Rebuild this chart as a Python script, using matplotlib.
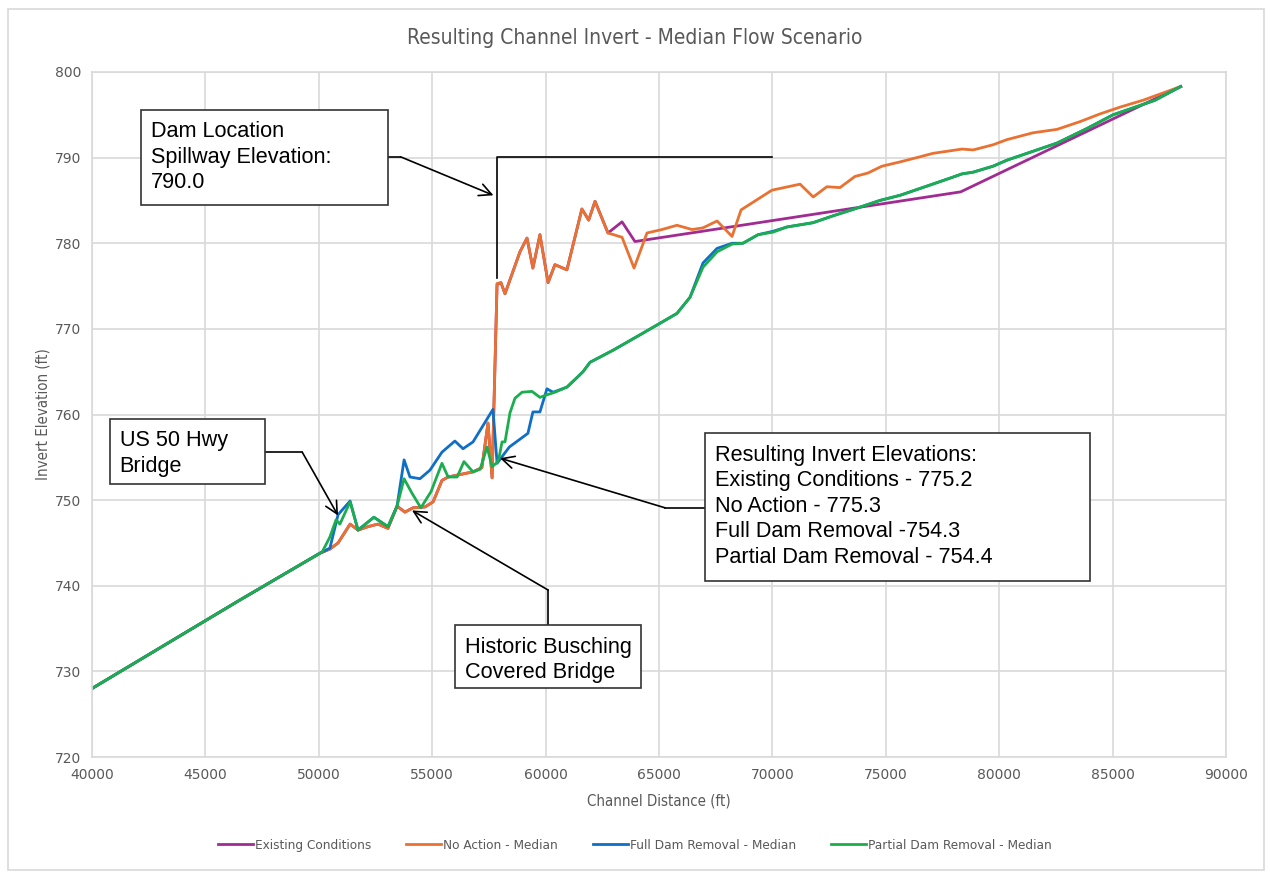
import matplotlib.pyplot as plt
from matplotlib.patches import Rectangle
from matplotlib.font_manager import FontProperties

# ---- data ----
dist_existing = [40000, 46500, 50050, 50500, 50850, 51380, 51730, 52170, 52610, 53050,
                 53450, 53800, 54150, 54680, 55040, 55430, 55700, 56800, 57190, 57460,
                 57640, 57860, 58030, 58210, 58870, 59180, 59440, 59750, 60110, 60410,
                 60940, 61600, 61900, 62180, 62750, 63370, 63940, 78300, 88000]
elev_existing = [728.0, 738.3, 743.8, 744.3, 745.0, 747.2, 746.5, 746.9, 747.2, 746.7,
                 749.3, 748.6, 749.1, 749.2, 749.8, 752.3, 752.7, 753.3, 753.8, 759.0,
                 752.6, 775.2, 775.4, 774.1, 779.0, 780.6, 777.1, 781.0, 775.4, 777.5,
                 776.9, 784.0, 782.7, 784.9, 781.2, 782.5, 780.2, 786.0, 798.3]

dist_noaction = [40000, 46500, 50050, 50500, 50850, 51380, 51730, 52170, 52610, 53050,
                 53450, 53800, 54150, 54680, 55040, 55430, 55700, 56800, 57190, 57460,
                 57640, 57860, 58030, 58210, 58870, 59180, 59440, 59750, 60110, 60410,
                 60940, 61600, 61900, 62180, 62750, 63370, 63900, 64470, 65130, 65790,
                 66460, 66940, 67560, 68220, 68620, 69980, 71220, 71800, 72400, 72980,
                 73640, 74210, 74830, 75630, 76510, 77080, 78360, 78850, 79730, 80340,
                 81490, 82550, 83560, 84440, 85330, 86340, 88000]
elev_noaction = [728.0, 738.3, 743.8, 744.3, 745.0, 747.2, 746.5, 746.9, 747.2, 746.7,
                 749.3, 748.6, 749.1, 749.2, 749.8, 752.3, 752.7, 753.3, 753.8, 759.0,
                 752.6, 775.3, 775.4, 774.1, 779.0, 780.6, 777.1, 781.0, 775.4, 777.5,
                 776.9, 784.0, 782.7, 784.9, 781.2, 780.7, 777.1, 781.2, 781.6, 782.1,
                 781.6, 781.8, 782.6, 780.8, 783.9, 786.2, 786.9, 785.4, 786.6, 786.5,
                 787.8, 788.2, 789.0, 789.5, 790.1, 790.5, 791.0, 790.9, 791.5, 792.1,
                 792.9, 793.3, 794.2, 795.1, 795.9, 796.7, 798.3]

dist_full = [40000, 46500, 50050, 50490, 50850, 51380, 51730, 52430, 53050, 53450,
             53760, 54020, 54460, 54900, 55430, 56000, 56360, 56800, 57680, 57860,
             58400, 59220, 59440, 59750, 60060, 60330, 60940, 61380, 61650, 61960,
             62970, 64160, 65790, 66370, 66940, 67560, 68220, 68700, 69370, 70030,
             70640, 71790, 72670, 73730, 74740, 75630, 77830, 78360, 78850, 79730,
             80340, 82550, 83870, 85020, 86870, 88000]
elev_full = [728.0, 738.3, 743.8, 744.4, 748.3, 749.9, 746.5, 748.0, 746.9, 749.3,
             754.7, 752.7, 752.5, 753.5, 755.6, 756.9, 756.0, 756.8, 760.6, 754.3,
             756.2, 757.8, 760.3, 760.3, 763.0, 762.6, 763.2, 764.3, 765.0, 766.1,
             767.5, 769.3, 771.8, 773.7, 777.7, 779.4, 780.0, 780.0, 781.0, 781.4,
             781.9, 782.4, 783.2, 784.1, 785.0, 785.6, 787.6, 788.1, 788.3, 789.0,
             789.7, 791.7, 793.4, 795.0, 796.7, 798.3]

dist_partial = [40000, 46500, 50050, 50140, 50490, 50760, 50930, 51380, 51730, 52430,
                53050, 53450, 53760, 54110, 54500, 54950, 55430, 55700, 56100, 56400,
                56800, 57110, 57420, 57640, 57860, 57950, 58080, 58210, 58430, 58650,
                58960, 59400, 59750, 60060, 60410, 60940, 61380, 61650, 61960, 62970,
                64160, 65790, 66370, 66940, 67560, 68220, 68700, 69370, 70030, 70640,
                71790, 72670, 73730, 74740, 75630, 77830, 78360, 78850, 79730, 80340,
                82550, 83870, 85020, 86870, 88000]
elev_partial = [728.0, 738.3, 743.8, 743.9, 745.7, 747.7, 747.2, 749.8, 746.5, 748.0,
                746.9, 749.3, 752.5, 750.8, 749.1, 751.0, 754.3, 752.7, 752.7, 754.5,
                753.3, 753.6, 756.2, 753.9, 754.4, 755.0, 756.8, 756.8, 760.2, 761.9,
                762.6, 762.7, 762.0, 762.3, 762.6, 763.2, 764.3, 765.0, 766.1, 767.5,
                769.3, 771.8, 773.7, 777.2, 779.0, 779.9, 780.0, 781.0, 781.3, 781.9,
                782.4, 783.2, 784.1, 785.0, 785.6, 787.6, 788.1, 788.3, 789.0, 789.7,
                791.7, 793.4, 795.0, 796.7, 798.3]

x_ticks = list(range(40000, 90001, 5000))
y_ticks = list(range(720, 801, 10))

gray = '#595959'
grid_c = '#d9d9d9'


def narrow(size):
    return FontProperties(family='DejaVu Sans', stretch='condensed', size=size)


fig = plt.figure(figsize=(12.7, 8.72), dpi=100)
ax = fig.add_axes([92 / 1270, 1 - 757 / 872, (1226 - 92) / 1270, (757 - 72) / 872])

# outer chart border
fig.patches.append(Rectangle((8 / 1270, 2 / 872), 1256 / 1270, 861 / 872,
                             transform=fig.transFigure, fill=False,
                             edgecolor=grid_c, linewidth=1.2))

ax.plot(dist_existing, elev_existing, color='#A02B93', lw=2, label='Existing Conditions')
ax.plot(dist_noaction, elev_noaction, color='#E97132', lw=2, label='No Action - Median')
ax.plot(dist_full, elev_full, color='#0F6FC6', lw=2, label='Full Dam Removal - Median')
ax.plot(dist_partial, elev_partial, color='#1CAD4E', lw=2, label='Partial Dam Removal - Median')

ax.set_xlim(40000, 90000)
ax.set_ylim(720, 800)
ax.set_xticks(x_ticks)
ax.set_yticks(y_ticks)
ax.set_xticklabels([str(v) for v in x_ticks])
ax.set_yticklabels([str(v) for v in y_ticks])
ax.tick_params(length=0, labelsize=10, labelcolor=gray, pad=8)
ax.grid(True, color=grid_c, linewidth=1.2)
ax.set_axisbelow(True)
for s in ax.spines.values():
    s.set_color(grid_c)
    s.set_linewidth(1.2)

ax.set_xlabel('Channel Distance (ft)', fontproperties=narrow(10.8), color=gray, labelpad=8)
ax.set_ylabel('Invert Elevation (ft)', fontproperties=narrow(10.8), color=gray, labelpad=3)
fig.text(0.5, 1 - 38 / 872, 'Resulting Channel Invert - Median Flow Scenario',
         ha='center', va='center', fontproperties=narrow(15), color=gray)

# ---- callout boxes ----
box_font = dict(fontsize=15.6, family='Liberation Sans', color='black', linespacing=1.28)


def callout(x0, x1, y0, y1, text):
    ax.add_patch(Rectangle((x0, y0), x1 - x0, y1 - y0, facecolor='white',
                           edgecolor='#333333', lw=1.2, zorder=5))
    ax.text(x0 + 420, y1 - 1.33, text, va='top', ha='left', zorder=6, **box_font)


def leader(pts, tip):
    xs = [p[0] for p in pts]
    ys = [p[1] for p in pts]
    ax.plot(xs, ys, color='black', lw=1.2, zorder=4)
    ax.annotate('', xy=tip, xytext=pts[-1],
                arrowprops=dict(arrowstyle='->', color='black', lw=1.2,
                                mutation_scale=22, shrinkA=0, shrinkB=0), zorder=4)


callout(42160, 53050, 784.5, 795.6, 'Dam Location\nSpillway Elevation:\n790.0')
leader([(53050, 790.1), (53600, 790.1)], (57700, 785.6))
ax.plot([57860, 57860, 69980], [775.9, 790.1, 790.1], color='black', lw=1.2, zorder=4)

callout(40800, 47640, 751.9, 759.5, 'US 50 Hwy\nBridge')
leader([(47640, 755.6), (49270, 755.6)], (50850, 748.2))

callout(56010, 64210, 728.1, 735.4, 'Historic Busching\nCovered Bridge')
leader([(60110, 735.4), (60110, 739.5)], (54110, 748.8))

callout(67030, 84000, 740.6, 757.8,
        'Resulting Invert Elevations:\nExisting Conditions - 775.2\nNo Action - 775.3\n'
        'Full Dam Removal -754.3\nPartial Dam Removal - 754.4')
leader([(67030, 749.1), (65270, 749.1)], (57990, 754.9))

fig.legend(loc='center', bbox_to_anchor=(0.5, 1 - 845 / 872), ncol=4, frameon=False,
           prop=narrow(9.7), labelcolor=gray,
           handlelength=2.6, handletextpad=0.15, columnspacing=2.6)

fig.savefig('out.png', dpi=100)
